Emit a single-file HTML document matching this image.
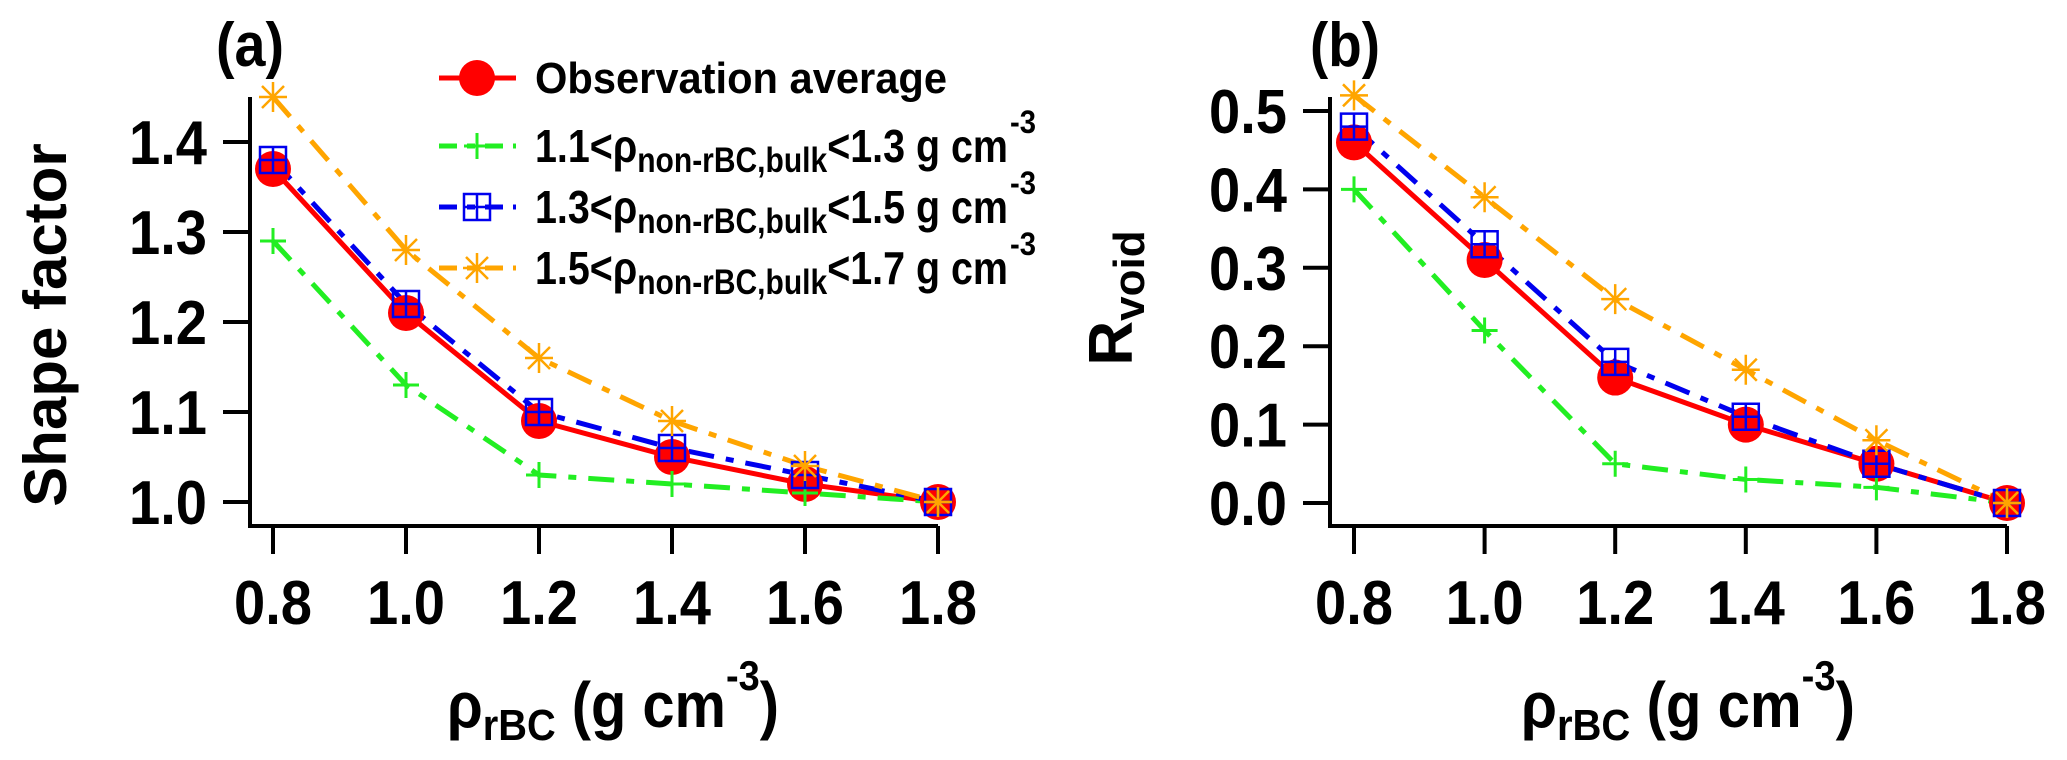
<!DOCTYPE html>
<html><head><meta charset="utf-8">
<style>
html,body{margin:0;padding:0;background:#fff;}
svg{display:block;}
text{font-family:"Liberation Sans",Arial,sans-serif;font-weight:bold;fill:#000;}
</style></head>
<body>
<svg id="fig" width="2067" height="760" viewBox="0 0 2067 760" xmlns="http://www.w3.org/2000/svg">
  <g id="panelA"></g>
  <g id="panelB"></g>
  <g id="legend"></g>
  <text x="216" y="66" font-size="62" textLength="68" lengthAdjust="spacingAndGlyphs">(a)</text>
  <text x="1310" y="66" font-size="62" textLength="70" lengthAdjust="spacingAndGlyphs">(b)</text>
  <text transform="translate(66,325) rotate(-90)" font-size="60" text-anchor="middle">Shape factor</text>
  <text transform="translate(1132,298) rotate(-90)" font-size="62" text-anchor="middle">R<tspan font-size="44" dy="12">void</tspan></text>
  <text x="447" y="727" font-size="64" textLength="332" lengthAdjust="spacingAndGlyphs">ρ<tspan font-size="44" dy="13">rBC</tspan><tspan dy="-13">  (g cm</tspan><tspan font-size="42" dy="-37">-3</tspan><tspan dy="37">)</tspan></text>
  <text x="1521" y="727" font-size="64" textLength="334" lengthAdjust="spacingAndGlyphs">ρ<tspan font-size="44" dy="13">rBC</tspan><tspan dy="-13">  (g cm</tspan><tspan font-size="42" dy="-37">-3</tspan><tspan dy="37">)</tspan></text>
</svg>
<script>
const xCats = [0.8, 1.0, 1.2, 1.4, 1.6, 1.8];
const xTickLabels = ["0.8","1.0","1.2","1.4","1.6","1.8"];
const aTicks = [1.0, 1.1, 1.2, 1.3, 1.4];
const aTickLabels = ["1.0","1.1","1.2","1.3","1.4"];
const bTicks = [0.0, 0.1, 0.2, 0.3, 0.4, 0.5];
const bTickLabels = ["0.0","0.1","0.2","0.3","0.4","0.5"];
const aObs = [1.37, 1.21, 1.09, 1.05, 1.02, 1.00];
const aLow = [1.29, 1.13, 1.03, 1.02, 1.01, 1.00];
const aMid = [1.38, 1.22, 1.10, 1.06, 1.03, 1.00];
const aHigh = [1.45, 1.28, 1.16, 1.09, 1.04, 1.00];
const bObs = [0.46, 0.31, 0.16, 0.10, 0.05, 0.00];
const bLow = [0.40, 0.22, 0.05, 0.03, 0.02, 0.00];
const bMid = [0.48, 0.33, 0.18, 0.11, 0.05, 0.00];
const bHigh = [0.52, 0.39, 0.26, 0.17, 0.08, 0.00];

const NS = "http://www.w3.org/2000/svg";
function mk(tag, attrs, parent){
  const e = document.createElementNS(NS, tag);
  for (const k in attrs) e.setAttribute(k, attrs[k]);
  parent.appendChild(e);
  return e;
}
const STY = {
  obs:  {color:"#ff0000", dash:null, w:5},
  low:  {color:"#22ee22", dash:"26 12 8 12", w:5},
  mid:  {color:"#0000ee", dash:"26 12 8 12", w:5},
  high: {color:"#ffa500", dash:"26 12 8 12", w:5}
};
function marker(g, kind, cx, cy){
  let m;
  if (kind === "obs") {
    m = mk("circle", {cx:cx, cy:cy, r:18, fill:"#ff0000"}, g);
  } else if (kind === "low") {
    m = mk("path", {d:`M${cx-13},${cy}H${cx+13}M${cx},${cy-13}V${cy+13}`, stroke:"#22ee22", "stroke-width":3, fill:"none"}, g);
  } else if (kind === "mid") {
    m = mk("path", {d:`M${cx-13},${cy-13}h26v26h-26zM${cx-13},${cy}H${cx+13}M${cx},${cy-13}V${cy+13}`, stroke:"#0000ee", "stroke-width":2.5, fill:"none"}, g);
  } else {
    m = mk("path", {d:`M${cx-14},${cy}H${cx+14}M${cx},${cy-15}V${cy+15}M${cx-11},${cy-11}L${cx+11},${cy+11}M${cx-11},${cy+11}L${cx+11},${cy-11}`, stroke:"#ffa500", "stroke-width":2.5, fill:"none"}, g);
  }
  
  
}
function drawPanel(gid, P, ticks, tickLabels, series){
  const g = document.getElementById(gid);
  const xs = v => P.x0 + (v - 0.8) / 0.2 * P.dx;
  const ys = v => P.y0 - (v - P.vmin) / 0.1 * P.dy;
  const ax = mk("path", {d:`M${P.ax},${P.top}V${P.base}H${xs(1.8)}`, stroke:"#000", "stroke-width":4, fill:"none"}, g);
  
  
  ticks.forEach((t,i) => {
    const y = ys(t);
    const tk = mk("line", {x1:P.ax-27, x2:P.ax, y1:y, y2:y, stroke:"#000", "stroke-width":4}, g);
    
    
    const tl = mk("text", {x:P.ax-43, y:y+22, "font-size":62, "text-anchor":"end", textLength:78, lengthAdjust:"spacingAndGlyphs"}, g);
    tl.textContent = tickLabels[i];
    
    
  });
  xCats.forEach((c,i) => {
    const x = xs(c);
    const tk = mk("line", {x1:x, x2:x, y1:P.base, y2:P.base+28, stroke:"#000", "stroke-width":4}, g);
    
    
    const tl = mk("text", {x:x-39, y:624, "font-size":62, textLength:78, lengthAdjust:"spacingAndGlyphs"}, g);
    tl.textContent = xTickLabels[i];
    
    
  });
  series.forEach(s => {
    const st = STY[s.kind];
    const pts = s.vals.map((v,i) => xs(xCats[i]) + "," + ys(v)).join(" ");
    const attrs = {points:pts, fill:"none", stroke:st.color, "stroke-width":st.w};
    if (st.dash) attrs["stroke-dasharray"] = st.dash;
    const pl = mk("polyline", attrs, g);
    
    
  });
  series.forEach(s => {
    s.vals.forEach((v,i) => marker(g, s.kind, xs(xCats[i]), ys(v)));
  });
}
drawPanel("panelA", {x0:273, dx:133, ax:250, top:97, base:526, y0:502, vmin:1.0, dy:90}, aTicks, aTickLabels,
  [{kind:"obs", vals:aObs},{kind:"low", vals:aLow},{kind:"mid", vals:aMid},{kind:"high", vals:aHigh}]);
drawPanel("panelB", {x0:1354, dx:130.6, ax:1330, top:97, base:526, y0:503, vmin:0.0, dy:78.4}, bTicks, bTickLabels,
  [{kind:"obs", vals:bObs},{kind:"low", vals:bLow},{kind:"mid", vals:bMid},{kind:"high", vals:bHigh}]);

const lg = document.getElementById("legend");
const rows = [
  {kind:"obs", y:78, base:93, lo:null},
  {kind:"low", y:146, base:162, lo:"1.1", hi:"1.3"},
  {kind:"mid", y:207, base:223, lo:"1.3", hi:"1.5"},
  {kind:"high", y:268, base:284, lo:"1.5", hi:"1.7"}
];
rows.forEach(r => {
  const st = STY[r.kind];
  const la = {x1:439, x2:516, y1:r.y, y2:r.y, stroke:st.color, "stroke-width":5};
  if (st.dash) la["stroke-dasharray"] = "18 10 8 10";
  const ln = mk("line", la, lg);
  
  
  marker(lg, r.kind, 477, r.y);
  if (!r.lo) {
    const t = mk("text", {x:535, y:r.base, "font-size":44, textLength:412, lengthAdjust:"spacingAndGlyphs"}, lg);
    t.textContent = "Observation average";
    
    
  } else {
    const t = mk("text", {x:535, y:r.base, "font-size":46, textLength:473, lengthAdjust:"spacingAndGlyphs"}, lg);
    
    
    const a = mk("tspan", {}, t); a.textContent = r.lo + "<ρ";
    const b = mk("tspan", {"font-size":35, dy:10}, t); b.textContent = "non-rBC,bulk";
    const c = mk("tspan", {dy:-10}, t); c.textContent = "<" + r.hi + " g cm";
    const sp = mk("text", {x:1010, y:r.base-29, "font-size":32, textLength:26, lengthAdjust:"spacingAndGlyphs"}, lg);
    sp.textContent = "-3";
    
    
  }
});
</script>
</body></html>
